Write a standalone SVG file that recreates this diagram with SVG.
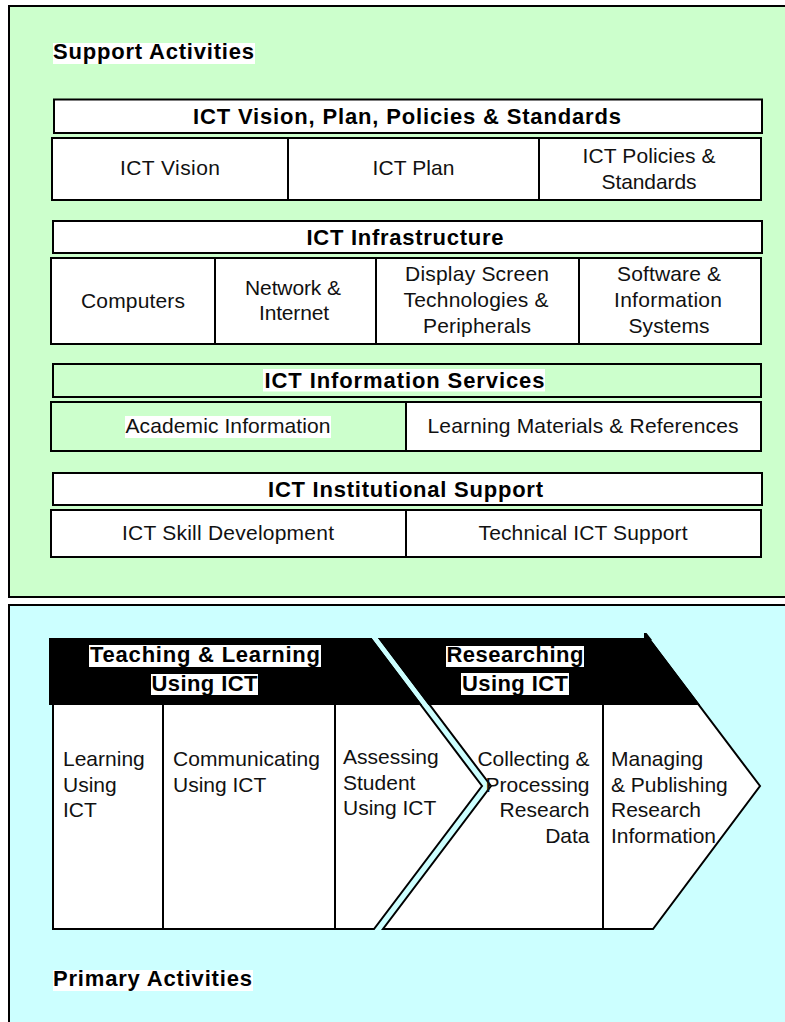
<svg xmlns="http://www.w3.org/2000/svg" width="785" height="1022" viewBox="0 0 785 1022">
  <style>
    .support { fill: #CCFFCC; stroke: #000; stroke-width: 2; }
    .primary { fill: #CCFFFF; stroke: #000; stroke-width: 2; }
    .box { fill: #FFFFFF; stroke: #000; stroke-width: 2; }
    .box-green { fill: #CCFFCC; stroke: #000; stroke-width: 2; }
    .band { fill: #000; stroke: #000; stroke-width: 2; stroke-linejoin: miter; }
    .chev { fill: #FFFFFF; stroke: #000; stroke-width: 2; stroke-linejoin: miter; }
    .rule { stroke: #000; stroke-width: 2; }
    .hl { fill: #FFFFFF; }
    .hd { font-family: "Liberation Sans", Arial, sans-serif; font-weight: bold; font-size: 22px; fill: #000; }
    .tx { font-family: "Liberation Sans", Arial, sans-serif; font-size: 21px; fill: #111; }
    .c { text-anchor: middle; }
    .r { text-anchor: end; }
  </style>

  <rect width="785" height="1022" fill="#FFFFFF"/>

  <!-- Support activities panel -->
  <g id="support-panel">
    <rect class="support" x="9" y="6" width="790" height="591"/>
    <rect class="hl" x="53" y="43" width="202" height="21"/>
    <text class="hd" x="53" y="58.5" textLength="201" lengthAdjust="spacing">Support Activities</text>
  </g>

  <!-- Vision, plan, policies & standards -->
  <g id="vision-header">
    <rect class="box" x="54" y="99.5" width="708" height="33.5"/>
    <text class="hd c" x="407" y="124" textLength="428" lengthAdjust="spacing">ICT Vision, Plan, Policies &amp; Standards</text>
  </g>
  <g id="ict-vision">
    <rect class="box" x="52" y="138" width="236" height="62"/>
    <text class="tx c" x="170" y="175" textLength="100" lengthAdjust="spacing">ICT Vision</text>
  </g>
  <g id="ict-plan">
    <rect class="box" x="288" y="138" width="251" height="62"/>
    <text class="tx c" x="413.5" y="175" textLength="82" lengthAdjust="spacing">ICT Plan</text>
  </g>
  <g id="ict-policies">
    <rect class="box" x="539" y="138" width="222" height="62"/>
    <text class="tx c" x="649" y="163" textLength="133" lengthAdjust="spacing">ICT Policies &amp;</text>
    <text class="tx c" x="649" y="188.5" textLength="95" lengthAdjust="spacing">Standards</text>
  </g>

  <!-- Infrastructure -->
  <g id="infra-header">
    <rect class="box" x="53" y="221" width="709" height="32"/>
    <text class="hd c" x="405" y="245" textLength="197" lengthAdjust="spacing">ICT Infrastructure</text>
  </g>
  <g id="computers">
    <rect class="box" x="51" y="258" width="164" height="86"/>
    <text class="tx c" x="133" y="307.5" textLength="104" lengthAdjust="spacing">Computers</text>
  </g>
  <g id="network">
    <rect class="box" x="215" y="258" width="161" height="86"/>
    <text class="tx c" x="293" y="294.5" textLength="96" lengthAdjust="spacing">Network &amp;</text>
    <text class="tx c" x="294" y="320" textLength="70" lengthAdjust="spacing">Internet</text>
  </g>
  <g id="display">
    <rect class="box" x="376" y="258" width="203" height="86"/>
    <text class="tx c" x="477" y="281" textLength="144" lengthAdjust="spacing">Display Screen</text>
    <text class="tx c" x="476" y="307" textLength="145" lengthAdjust="spacing">Technologies &amp;</text>
    <text class="tx c" x="477" y="333" textLength="108" lengthAdjust="spacing">Peripherals</text>
  </g>
  <g id="software">
    <rect class="box" x="579" y="258" width="182" height="86"/>
    <text class="tx c" x="669" y="281" textLength="104" lengthAdjust="spacing">Software &amp;</text>
    <text class="tx c" x="668" y="307" textLength="108" lengthAdjust="spacing">Information</text>
    <text class="tx c" x="669" y="333" textLength="81" lengthAdjust="spacing">Systems</text>
  </g>

  <!-- Information services -->
  <g id="info-header">
    <rect class="box-green" x="53" y="364" width="708" height="33"/>
    <rect class="hl" x="263" y="369" width="282" height="22.5"/>
    <text class="hd c" x="404.5" y="388" textLength="280" lengthAdjust="spacing">ICT Information Services</text>
  </g>
  <g id="academic-info">
    <rect class="box-green" x="51" y="402" width="355" height="49"/>
    <rect class="hl" x="125" y="416" width="206" height="22"/>
    <text class="tx c" x="228" y="432.5" textLength="205" lengthAdjust="spacing">Academic Information</text>
  </g>
  <g id="learning-materials">
    <rect class="box" x="406" y="402" width="355" height="49"/>
    <text class="tx c" x="583" y="432.5" textLength="311" lengthAdjust="spacing">Learning Materials &amp; References</text>
  </g>

  <!-- Institutional support -->
  <g id="institutional-header">
    <rect class="box" x="53" y="473" width="709" height="32"/>
    <text class="hd c" x="405.5" y="497" textLength="275" lengthAdjust="spacing">ICT Institutional Support</text>
  </g>
  <g id="skill-development">
    <rect class="box" x="51" y="510" width="355" height="47"/>
    <text class="tx c" x="228" y="540" textLength="212" lengthAdjust="spacing">ICT Skill Development</text>
  </g>
  <g id="technical-support">
    <rect class="box" x="406" y="510" width="355" height="47"/>
    <text class="tx c" x="583" y="540" textLength="209" lengthAdjust="spacing">Technical ICT Support</text>
  </g>

  <!-- Primary activities panel -->
  <g id="primary-panel">
    <rect class="primary" x="9" y="605" width="790" height="430"/>
    <rect class="hl" x="53" y="970" width="200" height="21"/>
    <text class="hd" x="53" y="986" textLength="199" lengthAdjust="spacing">Primary Activities</text>
  </g>

  <!-- Teaching & learning chevron -->
  <g id="teaching-learning">
    <polygon class="chev" points="53,639 371,639 482,786 374,929 53,929"/>
    <polygon class="band" points="50,639 371,639 420,704 50,704"/>
    <line class="rule" x1="163" y1="704" x2="163" y2="929"/>
    <line class="rule" x1="335" y1="704" x2="335" y2="929"/>
    <rect class="hl" x="89" y="645" width="232" height="22"/>
    <rect class="hl" x="151" y="674" width="107" height="21"/>
    <text class="hd c" x="205" y="662" textLength="230" lengthAdjust="spacing">Teaching &amp; Learning</text>
    <text class="hd c" x="204.5" y="690.5" textLength="106" lengthAdjust="spacing">Using ICT</text>
  </g>
  <g id="learning-using-ict">
    <text class="tx" x="63" y="766">Learning</text>
    <text class="tx" x="63" y="791.5">Using</text>
    <text class="tx" x="63" y="817">ICT</text>
  </g>
  <g id="communicating-using-ict">
    <text class="tx" x="173" y="766" textLength="147" lengthAdjust="spacing">Communicating</text>
    <text class="tx" x="173" y="791.5">Using ICT</text>
  </g>
  <g id="assessing-student">
    <text class="tx" x="343" y="764">Assessing</text>
    <text class="tx" x="343" y="789.5">Student</text>
    <text class="tx" x="343" y="815">Using ICT</text>
  </g>

  <!-- Researching chevron -->
  <g id="researching">
    <polygon class="chev" points="380,639 649,639 760,786 653,929 383,929 491,786"/>
    <polygon class="band" points="380,639 649,639 698,704 429,704"/>
    <polygon points="644,633 646.5,633 652,640 644,640" fill="#000"/>
    <line class="rule" x1="603" y1="704" x2="603" y2="929"/>
    <rect class="hl" x="446" y="646" width="138" height="21"/>
    <rect class="hl" x="461" y="673" width="108" height="22"/>
    <text class="hd c" x="515" y="662" textLength="137" lengthAdjust="spacing">Researching</text>
    <text class="hd c" x="515" y="690.5" textLength="106" lengthAdjust="spacing">Using ICT</text>
  </g>
  <g id="collecting-processing">
    <text class="tx r" x="589.5" y="766">Collecting &amp;</text>
    <text class="tx r" x="589.5" y="791.5">Processing</text>
    <text class="tx r" x="589.5" y="817">Research</text>
    <text class="tx r" x="589.5" y="842.5">Data</text>
  </g>
  <g id="managing-publishing">
    <text class="tx" x="611" y="766">Managing</text>
    <text class="tx" x="611" y="791.5">&amp; Publishing</text>
    <text class="tx" x="611" y="817">Research</text>
    <text class="tx" x="611" y="842.5">Information</text>
  </g>
</svg>
